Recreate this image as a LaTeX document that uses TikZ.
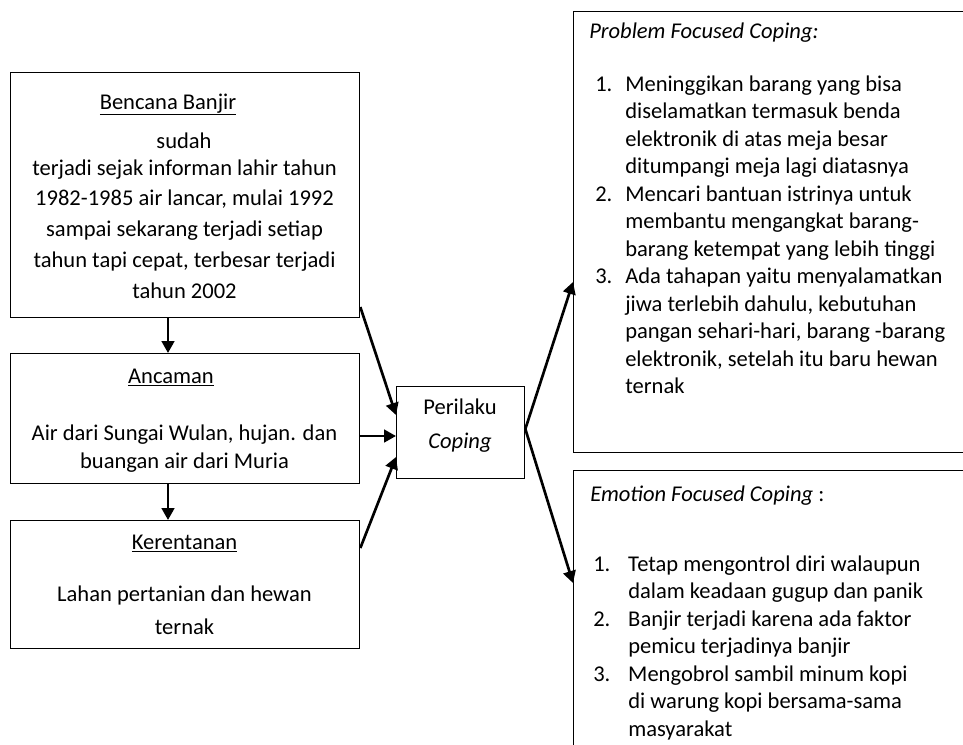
\documentclass[tikz,border=0pt]{standalone}
\usepackage{fontspec}
\setmainfont{Carlito}
\usetikzlibrary{arrows.meta}
\newcommand\pnum[1]{\makebox[22.5pt][l]{#1}}
\newcommand\pind{\hspace*{22.5pt}}
\newcommand\enum[1]{\makebox[26.25pt][l]{#1}}
\newcommand\eind{\hspace*{26.25pt}}
\begin{document}
\begin{tikzpicture}[x=0.75pt,y=-0.75pt,
  box/.style={draw=black, line width=1pt, anchor=north west, inner sep=0pt},
  txt/.style={inner sep=0pt, font=\fontsize{16.9}{20.6}\selectfont},
  arr/.style={line width=2pt, -{Triangle[length=9pt,width=9.5pt]}}]
\clip (0,0) rectangle (963,744);
% boxes
\node[box, minimum width=261.75pt, minimum height=183.75pt] (bencana) at (10,72) {};
\node[box, minimum width=261.75pt, minimum height=97.5pt] (ancaman) at (10,353) {};
\node[box, minimum width=261.75pt, minimum height=96pt] (keren) at (10,520) {};
\node[box, minimum width=96pt, minimum height=69pt] (perilaku) at (396,386) {};
\node[box, minimum width=327.75pt, minimum height=330.75pt] (problem) at (573,11) {};
\node[box, minimum width=327.75pt, minimum height=247.5pt] (emotion) at (573,470) {};
% left texts (multi-line nodes anchored at the baseline of their last line)
\node[txt, anchor=base] (t1) at (168,109) {\underline{Bencana Banjir}};
\node[txt, anchor=base] (t2) at (184,148) {sudah};
\node[txt, anchor=base, align=center, font=\fontsize{16.9}{23.06}\selectfont] (t3) at (184.5,298)
  {terjadi sejak informan lahir tahun\\1982-1985 air lancar, mulai 1992\\sampai sekarang terjadi setiap\\tahun tapi cepat, terbesar terjadi\\tahun 2002};
\node[txt, anchor=base] (t4) at (171,383) {\underline{Ancaman}};
\node[txt, anchor=base, align=center, font=\fontsize{16.9}{21pt}\selectfont] (t5) at (184.5,468)
  {Air dari Sungai Wulan, hujan. dan\\buangan air dari Muria};
\node[txt, anchor=base] (t6) at (184.5,549) {\underline{Kerentanan}};
\node[txt, anchor=base, align=center, font=\fontsize{16.9}{24.75pt}\selectfont] (t7) at (184.5,634)
  {Lahan pertanian dan hewan\\ternak};
% middle
\node[txt, anchor=base, align=center, font=\fontsize{16.9}{25.5pt}\selectfont] (t8) at (460,448)
  {Perilaku\\\textit{Coping}};
% right texts
\node[txt, anchor=base west] (t9) at (589,38) {\textit{Problem Focused Coping:}};
\node[txt, anchor=base west, align=left] (t10) at (595,393.5)
  {\pnum{1.}Meninggikan barang yang bisa\\
   \pind diselamatkan termasuk benda\\
   \pind elektronik di atas meja besar\\
   \pind ditumpangi meja lagi diatasnya\\
   \pnum{2.}Mencari bantuan istrinya untuk\\
   \pind membantu mengangkat barang-\\
   \pind barang ketempat yang lebih tinggi\\
   \pnum{3.}Ada tahapan yaitu menyalamatkan\\
   \pind jiwa terlebih dahulu, kebutuhan\\
   \pind pangan sehari-hari, barang -barang\\
   \pind elektronik, setelah itu baru hewan\\
   \pind ternak};
\node[txt, anchor=base west] (t11) at (590,501) {\textit{Emotion Focused Coping} :};
\node[txt, anchor=base west, align=left] (t12) at (593,736)
  {\enum{1.}Tetap mengontrol diri walaupun\\
   \eind dalam keadaan gugup dan panik\\
   \enum{2.}Banjir terjadi karena ada faktor\\
   \eind pemicu terjadinya banjir\\
   \enum{3.}Mengobrol sambil minum kopi\\
   \eind di warung kopi bersama-sama\\
   \eind masyarakat};
% connectors
\coordinate (vx) at (168,0);
\draw[arr] (vx |- bencana.south) -- (vx |- ancaman.north);
\draw[arr] (vx |- ancaman.south) -- (vx |- keren.north);
\draw[arr] (bencana.east |- 0,307) -- (perilaku.west |- 0,415);
\draw[arr] (ancaman.east |- 0,436) -- (perilaku.west |- 0,436);
\draw[arr] (keren.east |- 0,548) -- (perilaku.west |- 0,457);
\draw[arr] (perilaku.east |- 0,429) -- (problem.west |- 0,282);
\draw[arr] (perilaku.east |- 0,429) -- (emotion.west |- 0,583);
\end{tikzpicture}
\end{document}
